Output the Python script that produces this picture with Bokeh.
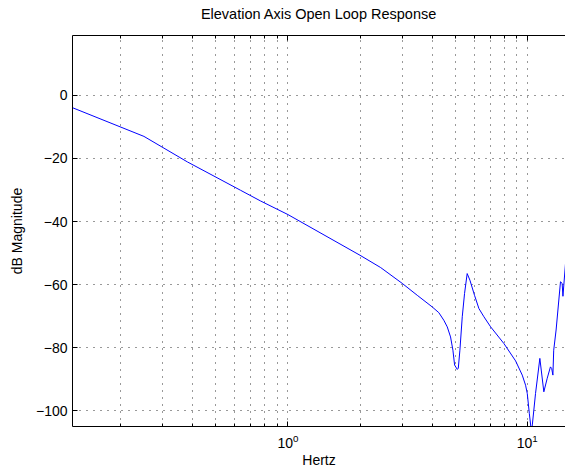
from bokeh.plotting import figure
from bokeh.models import FixedTicker, LogAxis, Range1d
from bokeh.embed import file_html
from bokeh.resources import INLINE

# Frequency (Hz) and magnitude (dB)
freq_hz = [0.1257, 0.25, 0.38, 0.634, 0.769, 1.0, 2.0, 2.44, 3.0, 3.47, 4.01,
           4.27, 4.48, 4.63, 4.78, 4.89, 4.97, 5.10, 5.15, 5.23, 5.35, 5.47,
           5.61, 5.76, 6.02, 6.28, 6.59, 7.03, 7.99, 8.94, 9.53, 9.84, 10.0,
           10.2, 10.42, 10.5, 10.83, 11.29, 11.73, 12.12, 12.5, 12.65, 12.8,
           12.9, 13.2, 13.77, 13.99, 14.1, 14.45]
mag_db = [-3.9, -13.0, -21.1, -30.1, -33.5, -37.8, -50.7, -54.6, -59.6, -63.4, -67.1,
          -68.9, -71.3, -73.4, -76.6, -80.8, -85.5, -86.9, -86.5, -80.8, -70.2, -62.8,
          -56.5, -58.6, -63.4, -67.6, -70.2, -73.4, -78.7, -84.2, -88.7, -91.9, -94.5,
          -100.8, -107.0, -104.5, -94.5, -83.4, -94.0, -89.7, -86.1, -86.6, -88.7,
          -80.8, -74.4, -59.1, -59.6, -63.7, -53.3]

x_major = [1, 10]
x_minor = [0.2, 0.3, 0.4, 0.5, 0.6, 0.7, 0.8, 0.9, 2, 3, 4, 5, 6, 7, 8, 9]
y_ticks = [-100, -80, -60, -40, -20, 0]
y_labels = {t: (str(t).replace("-", "\u2212")) for t in y_ticks}
title_text = "Elevation Axis Open Loop Response"

FONT = "Liberation Sans"

p = figure(width=565, height=470, x_axis_type="log",
           x_range=Range1d(0.1257, 14.45), y_range=Range1d(-105, 19),
           output_backend="svg", toolbar_location=None,
           min_border_left=72, min_border_right=0, min_border_top=35,
           min_border_bottom=44)

p.line(freq_hz, mag_db, line_color="#0000ff", line_width=1)

p.xaxis.ticker = FixedTicker(ticks=x_major, minor_ticks=x_minor)
p.yaxis.ticker = FixedTicker(ticks=y_ticks)
p.yaxis.major_label_overrides = y_labels

for ax in (p.xaxis[0], p.yaxis[0]):
    ax.major_tick_in = 5
    ax.major_tick_out = 0
    ax.minor_tick_in = 3
    ax.minor_tick_out = 0
    ax.axis_line_color = "#000000"
    ax.major_tick_line_color = "#000000"
    ax.minor_tick_line_color = "#000000"
    ax.major_label_text_font = FONT
    ax.major_label_text_font_size = "14px"
    ax.major_label_text_color = "#000000"
    ax.axis_label_text_font = FONT
    ax.axis_label_text_font_size = "14px"
    ax.axis_label_text_font_style = "normal"
    ax.axis_label_text_color = "#000000"

p.yaxis.minor_tick_line_color = None
p.xaxis.axis_label = "Hertz"
p.yaxis.axis_label = "dB Magnitude"
p.xaxis.axis_label_standoff = 1
p.yaxis.axis_label_standoff = 8
p.xaxis.major_label_standoff = 7
p.yaxis.major_label_standoff = 5

top = LogAxis(ticker=FixedTicker(ticks=x_major, minor_ticks=x_minor),
              major_label_text_font_size="1px", major_label_text_alpha=0.0,
              major_tick_in=5, major_tick_out=0,
              minor_tick_in=3, minor_tick_out=0, axis_line_color="#000000",
              major_label_standoff=0,
              axis_label=title_text, axis_label_text_font=FONT,
              axis_label_text_font_size="14.5px", axis_label_text_font_style="normal",
              axis_label_text_color="#000000", axis_label_standoff=14)
p.add_layout(top, "above")

p.xgrid.ticker = FixedTicker(ticks=x_major, minor_ticks=x_minor)
p.ygrid.ticker = FixedTicker(ticks=y_ticks)
for g in (p.xgrid[0], p.ygrid[0]):
    g.grid_line_color = "#333333"
    g.grid_line_dash = "1 6"
    g.grid_line_width = 1
p.xgrid.minor_grid_line_color = "#333333"
p.xgrid.minor_grid_line_dash = "1 6"

p.outline_line_color = None
p.background_fill_color = "#ffffff"
p.border_fill_color = "#ffffff"

open("out.html", "w").write(file_html(p, INLINE))
